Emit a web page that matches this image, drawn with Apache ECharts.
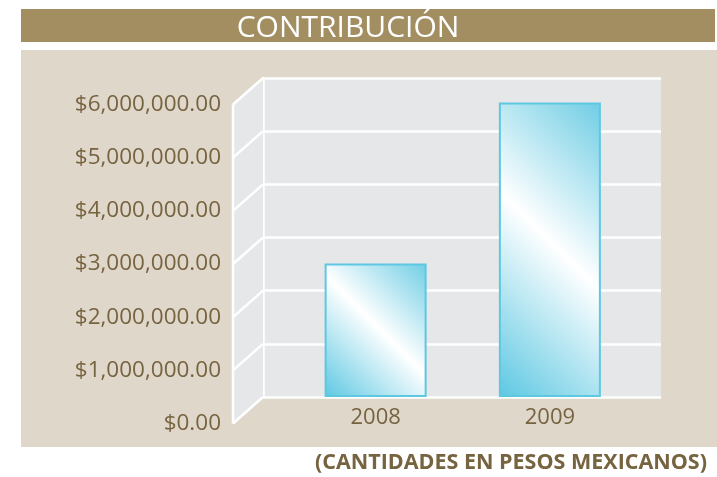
<!DOCTYPE html>
<html>
<head>
<meta charset="utf-8">
<script src="https://cdn.jsdelivr.net/npm/echarts@6/dist/echarts.min.js"></script>
<style>
  html, body { margin: 0; padding: 0; background: #fff; }
  #chart { width: 717px; height: 477px; }
</style>
</head>
<body>
<div id="chart"></div>
<script>
// data
const years = ['2008', '2009']
const contribution = [2510000, 5540000]
const yTicks = [0, 1000000, 2000000, 3000000, 4000000, 5000000, 6000000]
const titleText = 'CONTRIBUCIÓN'
const footerText = '(CANTIDADES EN PESOS MEXICANOS)'

const brown = '#76633f'
const wallColor = '#e6e7e9'
const cyan = '#5ec8e2'
const font = '"Open Sans", "Noto Sans", sans-serif'
// depth of the fake 3d side wall, in pixels
const DX = -30
const DY = 26.5
const yMin = yTicks[0]
const yMax = yTicks[yTicks.length - 1]
const yStep = yTicks[1] - yTicks[0]

function money(v) {
  return '$' + v.toLocaleString('en-US', { minimumFractionDigits: 2, maximumFractionDigits: 2 })
}

// bar gradients, white streak at 45 deg
const barGradients = [
  new echarts.graphic.LinearGradient(-0.1, 0.92, 1.1, 0.0, [
    { offset: 0, color: cyan },
    { offset: 0.5, color: '#ffffff' },
    { offset: 1, color: '#62c9e2' },
  ]),
  new echarts.graphic.LinearGradient(-0.5, 0.82, 1.5, 0.12, [
    { offset: 0, color: cyan },
    { offset: 0.5, color: '#ffffff' },
    { offset: 1, color: '#62c9e2' },
  ]),
]

const chart = echarts.init(document.getElementById('chart'), null, { renderer: 'canvas' })

chart.setOption({
  animation: false,
  backgroundColor: '#ffffff',
  graphic: [
    { type: 'rect', z: -10, shape: { x: 21, y: 50, width: 696, height: 397 }, style: { fill: '#e0d7cb' } },
    { type: 'rect', z: -10, shape: { x: 21, y: 9, width: 694, height: 33 }, style: { fill: '#a38e62' } },
  ],
  title: [
    {
      text: titleText,
      left: 343,
      textAlign: 'center',
      top: 8,
      textStyle: { color: '#ffffff', fontFamily: font, fontWeight: 'normal', fontSize: 30 },
    },
    {
      text: footerText,
      right: 5,
      top: 447,
      textStyle: { color: brown, fontFamily: font, fontWeight: 'bold', fontSize: 21.5 },
    },
  ],
  grid: [
    // back wall
    { left: 263, right: 56, top: 78, bottom: 80, show: true, backgroundColor: wallColor, borderWidth: 0 },
    // front edge, for the labels
    { left: 233, right: 454, top: 78 + DY, bottom: 80 - DY },
    // bars
    { left: 288.5, right: 80, top: 78, bottom: 80 },
  ],
  xAxis: [
    { gridIndex: 0, type: 'value', min: 0, max: 1, show: false },
    { gridIndex: 1, type: 'value', min: 0, max: 1, show: false },
    {
      gridIndex: 2,
      type: 'category',
      data: years,
      axisLine: { show: false },
      axisTick: { show: false },
      axisLabel: { color: brown, fontFamily: font, fontSize: 22, margin: 10 },
    },
  ],
  yAxis: [
    {
      gridIndex: 0,
      type: 'value',
      position: 'right',
      min: yMin,
      max: yMax,
      interval: yStep,
      axisLine: { show: true, lineStyle: { color: '#ffffff', width: 2.5 } },
      axisTick: { show: false },
      axisLabel: { show: false },
      splitLine: { show: true, lineStyle: { color: '#ffffff', width: 2.5 } },
    },
    {
      gridIndex: 1,
      type: 'value',
      min: yMin,
      max: yMax,
      interval: yStep,
      axisLine: { show: false },
      axisTick: { show: false },
      splitLine: { show: false },
      axisLabel: { color: brown, fontFamily: font, fontSize: 22.5, margin: 12, formatter: money },
    },
    { gridIndex: 2, type: 'value', min: yMin, max: yMax, show: false },
  ],
  series: [
    {
      // side wall + diagonal grid lines
      type: 'custom',
      xAxisIndex: 0,
      yAxisIndex: 0,
      z: 1,
      silent: true,
      data: yTicks.map((v) => [0, v]),
      renderItem(params, api) {
        const back = api.coord([api.value(0), api.value(1)])
        const front = [back[0] + DX, back[1] + DY]
        const children = []
        if (params.dataIndex === 0) {
          const top = api.coord([0, yMax])
          const topFront = [top[0] + DX, top[1] + DY]
          children.push({
            type: 'polygon',
            shape: { points: [back, top, topFront, front] },
            style: { fill: wallColor },
          })
          children.push({
            type: 'line',
            z2: 5,
            shape: { x1: front[0], y1: front[1], x2: topFront[0], y2: topFront[1] },
            style: { stroke: '#ffffff', lineWidth: 2.5 },
          })
        }
        children.push({
          type: 'line',
          z2: 5,
          shape: { x1: front[0], y1: front[1], x2: back[0], y2: back[1] },
          style: { stroke: '#ffffff', lineWidth: 2.5 },
        })
        return { type: 'group', children }
      },
    },
    {
      type: 'bar',
      xAxisIndex: 2,
      yAxisIndex: 2,
      z: 3,
      barWidth: 102,
      data: contribution.map((v, i) => ({
        value: v,
        itemStyle: { color: barGradients[i], borderColor: cyan, borderWidth: 2 },
      })),
    },
  ],
})
</script>
</body>
</html>
